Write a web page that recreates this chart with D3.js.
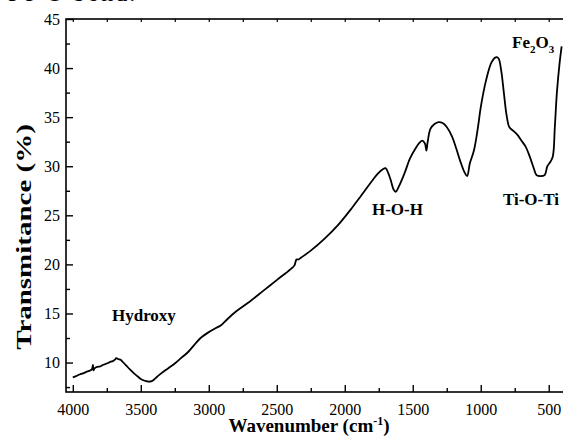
<!DOCTYPE html>
<html>
<head>
<meta charset="utf-8">
<script src="https://cdn.jsdelivr.net/npm/d3@7"></script>
<style>
  html, body { margin: 0; padding: 0; background: #fff; }
  svg { display: block; }
  text { font-family: "Liberation Serif", "Times New Roman", serif; fill: #000; }
</style>
</head>
<body>
<svg id="chart" width="563" height="437"></svg>
<script>
// FTIR spectrum: wavenumber (cm^-1) and transmittance (%)
const wavenumbers = [
  4000, 3975, 3950, 3925, 3900, 3880, 3860, 3852, 3848, 3840, 3820, 3800, 3780, 3760,
  3740, 3720, 3705, 3690, 3680, 3665, 3650, 3635,
  3610, 3580, 3550, 3520, 3490, 3460, 3440, 3420, 3400, 3380, 3350, 3300, 3250, 3200, 3150, 3100,
  3060, 3000, 2950, 2910, 2880, 2800, 2700, 2600, 2500, 2400, 2370, 2355, 2340, 2320,
  2250, 2150, 2050, 1950, 1880, 1800, 1760, 1720, 1700, 1680, 1660, 1640, 1625, 1600,
  1560, 1520, 1480, 1450, 1430, 1410, 1400, 1390, 1370, 1340, 1310, 1280, 1250, 1210,
  1180, 1150, 1120, 1100, 1080, 1050, 1020, 1000, 960, 920, 890, 870, 850, 830,
  810, 790, 760, 730, 700, 670, 640, 610, 590, 560, 530, 510, 490, 470,
  455, 440, 420, 405
];
const transmittance = [
  8.5, 8.62, 8.78, 8.9, 9.05, 9.15, 9.3, 9.75, 9.2, 9.4, 9.55, 9.6, 9.75, 9.85,
  9.95, 10.1, 10.15, 10.3, 10.45, 10.35, 10.3, 10.1,
  9.75, 9.3, 8.9, 8.55, 8.25, 8.1, 8.05, 8.1, 8.3, 8.55, 8.9, 9.4, 9.9, 10.5, 11.1, 11.9,
  12.5, 13.1, 13.5, 13.8, 14.2, 15.2, 16.2, 17.3, 18.4, 19.5, 19.9, 20.5, 20.5, 20.7,
  21.4, 22.6, 24.0, 25.7, 27.0, 28.5, 29.2, 29.7, 29.8, 29.3, 28.5, 27.6, 27.4, 28.0,
  29.3, 30.8, 31.8, 32.4, 32.6, 32.3, 31.6, 32.5, 33.8, 34.3, 34.5, 34.4, 34.0, 33.0,
  31.8, 30.5, 29.4, 29.0, 30.3, 31.6, 34.0, 36.0, 38.8, 40.6, 41.1, 41.0, 39.8, 37.5,
  35.2, 34.0, 33.6, 33.2, 32.6, 32.0, 31.0, 29.8, 29.1, 29.0, 29.1, 30.0, 30.4, 31.0,
  34.0, 37.5, 40.5, 42.2
];

const xMajorTicks = [4000, 3500, 3000, 2500, 2000, 1500, 1000, 500];
const xMinorTicks = [3750, 3250, 2750, 2250, 1750, 1250, 750];
const yMajorTicks = [10, 15, 20, 25, 30, 35, 40, 45];
const yMinorTicks = [7.5, 12.5, 17.5, 22.5, 27.5, 32.5, 37.5, 42.5];

const bandLabels = ["Hydroxy", "H-O-H", "Ti-O-Ti"];
const bandWavenumbers = [3712, 1800, 837];
const bandLevels = [14.2, 25.0, 26.05];

const svg = d3.select("#chart");
const plotLeft = 66, plotRight = 563, plotTop = 19, plotBottom = 392;

const x = d3.scaleLinear().domain([4050, 395]).range([plotLeft, plotRight]);
const y = d3.scaleLinear().domain([7, 45]).range([plotBottom, plotTop]);

const data = wavenumbers.map((w, i) => ({ w, t: transmittance[i] }));

// spectrum trace
svg.append("path")
  .datum(data)
  .attr("fill", "none")
  .attr("stroke", "#000")
  .attr("stroke-width", 1.8)
  .attr("stroke-linejoin", "round")
  .attr("d", d3.line().x(d => x(d.w)).y(d => y(d.t)).curve(d3.curveCatmullRom.alpha(0.5)));

// frame
svg.append("rect")
  .attr("x", plotLeft).attr("y", plotTop)
  .attr("width", plotRight - plotLeft + 2).attr("height", plotBottom - plotTop)
  .attr("fill", "none").attr("stroke", "#000").attr("stroke-width", 1.6);

const fmt = d3.format("d");

// bottom axis (ticks point inward)
const bottomAxis = svg.append("g").attr("transform", `translate(0,${plotBottom})`);
bottomAxis.call(d3.axisBottom(x).tickValues(xMajorTicks).tickFormat(fmt).tickSize(-7).tickPadding(12))
  .call(g => g.select(".domain").remove())
  .call(g => g.selectAll("line").attr("stroke-width", 1.4))
  .call(g => g.selectAll("text").attr("font-size", 16).attr("font-family", "Liberation Serif"));
bottomAxis.append("g")
  .call(d3.axisBottom(x).tickValues(xMinorTicks).tickSize(-4).tickFormat(""))
  .call(g => g.select(".domain").remove())
  .call(g => g.selectAll("line").attr("stroke-width", 1.4));

// top axis ticks
const topAxis = svg.append("g").attr("transform", `translate(0,${plotTop})`);
topAxis.call(d3.axisTop(x).tickValues(xMajorTicks.concat(xMinorTicks)).tickSize(-3).tickFormat(""))
  .call(g => g.select(".domain").remove())
  .call(g => g.selectAll("line").attr("stroke-width", 1.2));

// left axis
const leftAxis = svg.append("g").attr("transform", `translate(${plotLeft},0)`);
leftAxis.call(d3.axisLeft(y).tickValues(yMajorTicks).tickFormat(fmt).tickSize(-7).tickPadding(6))
  .call(g => g.select(".domain").remove())
  .call(g => g.selectAll("line").attr("stroke-width", 1.4))
  .call(g => g.selectAll("text").attr("font-size", 16).attr("font-family", "Liberation Serif"));
leftAxis.append("g")
  .call(d3.axisLeft(y).tickValues(yMinorTicks).tickSize(-4).tickFormat(""))
  .call(g => g.select(".domain").remove())
  .call(g => g.selectAll("line").attr("stroke-width", 1.4));

// axis titles
const xTitle = svg.append("text")
  .attr("x", 309).attr("y", 432)
  .attr("text-anchor", "middle")
  .attr("font-size", 19).attr("font-weight", "bold");
xTitle.append("tspan").text("Wavenumber (cm");
xTitle.append("tspan").attr("font-size", 12).attr("dy", -7).text("-1");
xTitle.append("tspan").attr("dy", 7).text(")");

// y title, drawn stretched along its length
svg.append("text")
  .attr("transform", "translate(31,237) rotate(-90) scale(1.45,1)")
  .attr("text-anchor", "middle")
  .attr("font-size", 20).attr("font-weight", "bold")
  .text("Transmitance (%)");

// band annotations
svg.selectAll("text.band")
  .data(bandLabels)
  .join("text")
  .attr("class", "band")
  .attr("x", (d, i) => x(bandWavenumbers[i]))
  .attr("y", (d, i) => y(bandLevels[i]))
  .attr("font-size", 17).attr("font-weight", "bold")
  .text(d => d);

const fe = svg.append("text")
  .attr("x", x(770)).attr("y", y(42.05))
  .attr("font-size", 17).attr("font-weight", "bold");
fe.append("tspan").text("Fe");
fe.append("tspan").attr("font-size", 11).attr("dy", 5).text("2");
fe.append("tspan").attr("dy", -5).text("O");
fe.append("tspan").attr("font-size", 11).attr("dy", 5).text("3");

// running text above the figure, clipped by the page edge
svg.append("text")
  .attr("x", 8).attr("y", 1)
  .attr("font-size", 24)
  .attr("letter-spacing", 2)
  .text("Fe-O bond.");
</script>
</body>
</html>
